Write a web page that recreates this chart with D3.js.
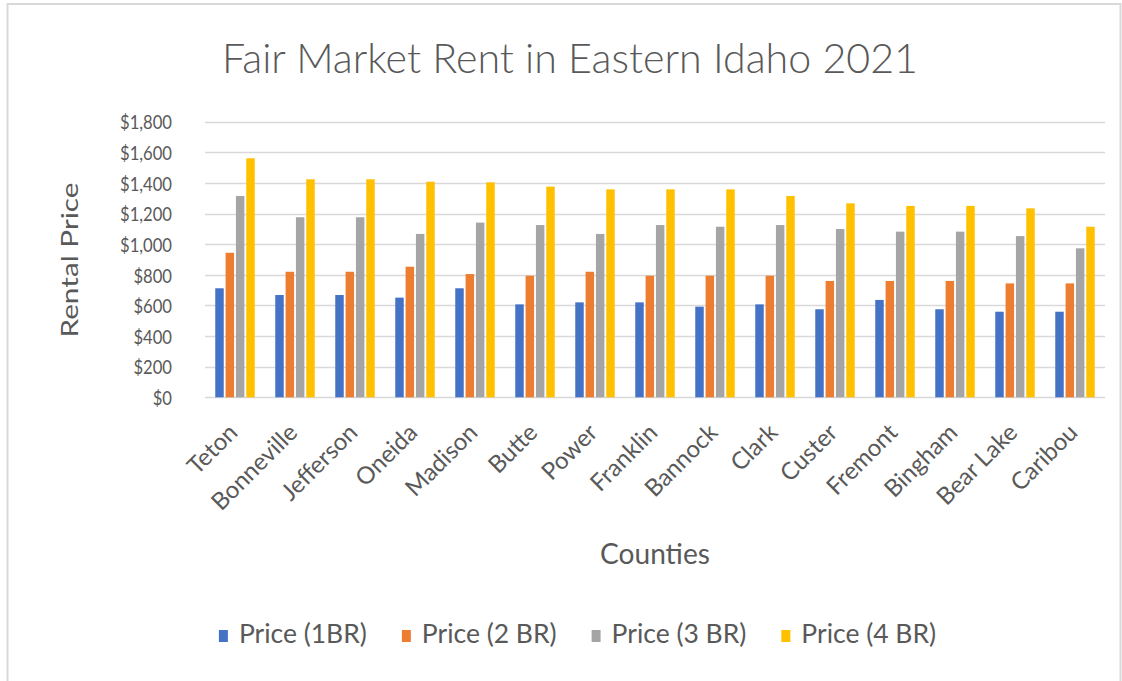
<!DOCTYPE html>
<html>
<head>
<meta charset="utf-8">
<script src="https://cdn.jsdelivr.net/npm/d3@7"></script>
<style>
  html, body { margin: 0; padding: 0; background: #fff; }
  svg { display: block; }
  text { font-family: Lato, "Open Sans", sans-serif; fill: #595959; }
</style>
</head>
<body>
<svg id="chart" width="1122" height="681"></svg>
<script>
const titleText = "Fair Market Rent in Eastern Idaho 2021";
const xTitle = "Counties";
const yTitle = "Rental Price";
const counties = ["Teton","Bonneville","Jefferson","Oneida","Madison","Butte","Power","Franklin","Bannock","Clark","Custer","Fremont","Bingham","Bear Lake","Caribou"];
const seriesNames = ["Price (1BR)","Price (2 BR)","Price (3 BR)","Price (4 BR)"];
const price1BR = [712,668,668,651,712,607,620,620,592,607,575,636,575,559,559];
const price2BR = [944,820,820,853,805,794,820,794,794,794,760,760,760,744,744];
const price3BR = [1315,1176,1176,1067,1141,1125,1067,1125,1114,1125,1099,1082,1082,1053,973];
const price4BR = [1561,1424,1424,1408,1404,1376,1358,1358,1358,1315,1267,1250,1250,1234,1114];
const yTicks = [0,200,400,600,800,1000,1200,1400,1600,1800];
const colors = ["#4472C4","#ED7D31","#A5A5A5","#FFC000"];

const seriesValues = [price1BR, price2BR, price3BR, price4BR];
const data = counties.map((c, i) => ({county: c, values: seriesValues.map((s, k) => ({key: seriesNames[k], idx: k, value: s[i]}))}));

const svg = d3.select("#chart");

// outer frame
svg.append("rect").attr("x", 7.5).attr("y", 4).attr("width", 1113).attr("height", 690)
  .attr("fill", "#fff").attr("stroke", "#d9d9d9").attr("stroke-width", 2);

function fit(sel, target) {
  sel.attr("font-size", 100);
  const w = sel.node().getComputedTextLength();
  const fs = 100 * target / w;
  sel.attr("font-size", fs);
  return fs;
}

const plotLeft = 205, plotRight = 1105, plotTop = 121.7, plotBottom = 397.3;

const x0 = d3.scaleBand().domain(counties).range([plotLeft, plotRight]).paddingInner(0.28).paddingOuter(0.14);
const x1 = d3.scaleBand().domain(seriesNames).range([0, x0.bandwidth()]).padding(0.18);
const y = d3.scaleLinear().domain([0, 1800]).range([plotBottom, plotTop]);

// gridlines
svg.append("g").selectAll("line").data(yTicks).join("line")
  .attr("x1", plotLeft).attr("x2", plotRight)
  .attr("y1", d => Math.round(y(d)) + 0.5).attr("y2", d => Math.round(y(d)) + 0.5)
  .attr("stroke", "#d9d9d9").attr("stroke-width", 1.3);

// bars
const groups = svg.append("g").selectAll("g").data(data).join("g")
  .attr("transform", d => `translate(${x0(d.county)},0)`);
groups.selectAll("rect").data(d => d.values).join("rect")
  .attr("x", d => x1(d.key)).attr("width", x1.bandwidth())
  .attr("y", d => y(d.value)).attr("height", d => y(0) - y(d.value))
  .attr("fill", d => colors[d.idx]);

// y axis labels
const yAxis = d3.axisLeft(y).tickValues(yTicks).tickSize(0).tickPadding(0)
  .tickFormat(d => "$" + d3.format(",")(d));
const yg = svg.append("g").attr("transform", `translate(172,0)`).call(yAxis);
yg.select(".domain").remove();
yg.selectAll("text").attr("font-family", "Lato, 'Open Sans', sans-serif").attr("fill", "#595959")
  .attr("font-size", 20).attr("dy", "0.36em");
const yw = yg.selectAll("text").filter(d => d === 1800).node().getComputedTextLength();
const yk = 52 / yw;
yg.selectAll("text").attr("transform", `scale(${yk},1)`);

// x axis labels
const xAxis = d3.axisBottom(x0).tickSize(0).tickPadding(0);
const xg = svg.append("g").call(xAxis);
xg.select(".domain").remove();
xg.selectAll(".tick").attr("transform", d => `translate(${x0(d) + x0.bandwidth()/2 + 4},434)`);
xg.selectAll("text").attr("font-family", "Lato, 'Open Sans', sans-serif").attr("fill", "#595959")
  .attr("y", 0).attr("dy", 0).attr("text-anchor", "end").attr("transform", "rotate(-45)");
const xfs = fit(xg.selectAll("text").filter(d => d === "Bonneville"), 110);
xg.selectAll("text").attr("font-size", xfs);

// title
const t = svg.append("text").attr("x", 570).attr("y", 73).attr("text-anchor", "middle")
  .attr("font-weight", 300).text(titleText);
fit(t, 696);

// axis titles
const xt = svg.append("text").attr("x", 655).attr("y", 564).attr("text-anchor", "middle").text(xTitle);
fit(xt, 110);
const yt = svg.append("text").attr("transform", "translate(70,260) rotate(-90)")
  .attr("text-anchor", "middle").attr("dy", "0.35em").attr("font-size", 24)
  .attr("textLength", 155).attr("lengthAdjust", "spacingAndGlyphs").text(yTitle);

// legend
const lg = svg.append("g");
const items = lg.selectAll("g").data(seriesNames).join("g");
items.append("rect").attr("width", 9).attr("height", 12).attr("y", 630).attr("fill", (d, i) => colors[i]);
const ltexts = items.append("text").attr("y", 643).text(d => d);
const lfs = fit(ltexts.filter((d, i) => i === 0), 128);
ltexts.attr("font-size", lfs);
let cx = 0;
const widths = [];
ltexts.each(function() { widths.push(this.getComputedTextLength()); });
const positions = widths.map(w => { const p = cx; cx += 20 + w + 35; return p; });
const total = cx - 35;
const startX = 577.5 - total / 2;
items.each(function(d, i) {
  const g = d3.select(this);
  g.select("rect").attr("x", startX + positions[i]);
  g.select("text").attr("x", startX + positions[i] + 20);
});
</script>
</body>
</html>
